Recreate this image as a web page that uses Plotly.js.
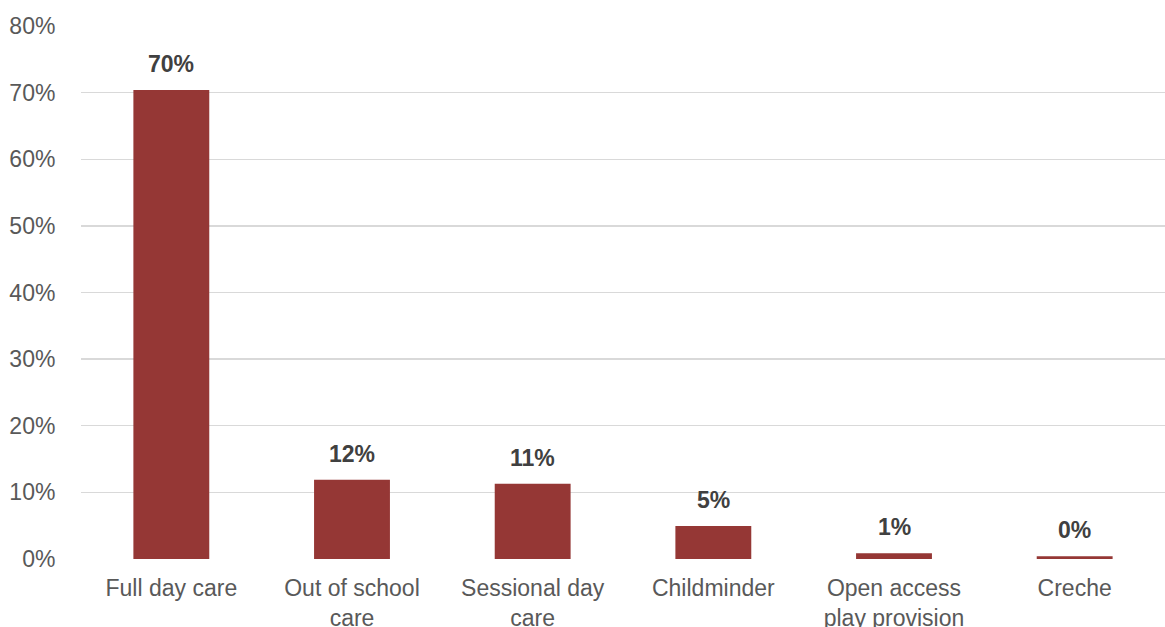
<!DOCTYPE html>
<html>
<head>
<meta charset="utf-8">
<script src="https://cdn.plot.ly/plotly-3.0.1.min.js"></script>
<style>html,body{margin:0;padding:0;background:#fff;}#chart{width:1165px;height:627px;}</style>
</head>
<body>
<div id="chart"></div>
<script>
const categories = ["Full day care", "Out of school<br>care", "Sessional day<br>care", "Childminder", "Open access<br>play provision", "Creche"];
const values = [70.4, 11.9, 11.3, 4.95, 0.87, 0.4];
const valueLabels = ["70%", "12%", "11%", "5%", "1%", "0%"];
const yTicks = [0, 10, 20, 30, 40, 50, 60, 70, 80];
const yTickLabels = ["0%", "10%", "20%", "30%", "40%", "50%", "60%", "70%", "80%"];

const trace = {
  type: "bar",
  x: categories,
  y: values,
  marker: {color: "#953735"},
  width: 0.42,
  hoverinfo: "skip"
};

const annotations = categories.map((c, i) => ({
  x: c, y: values[i], xref: "x", yref: "y",
  text: valueLabels[i], showarrow: false,
  yanchor: "bottom", yshift: 11,
  font: {family: "Liberation Sans, Arial, sans-serif", size: 23, color: "#404040", weight: "bold"}
}));

const layout = {
  width: 1165, height: 627,
  margin: {l: 81, r: 0, t: 26, b: 68},
  paper_bgcolor: "#fff", plot_bgcolor: "#fff",
  showlegend: false,
  font: {family: "Liberation Sans, Arial, sans-serif", size: 23, color: "#595959"},
  xaxis: {
    showgrid: false, zeroline: false, showline: false,
    ticks: "outside", ticklen: 8, tickcolor: "rgba(0,0,0,0)",
    tickfont: {size: 23, color: "#595959"}
  },
  yaxis: {
    range: [0, 80],
    tickvals: yTicks, ticktext: yTickLabels,
    showgrid: true, gridcolor: "#d9d9d9", gridwidth: 1.3,
    zeroline: false, showline: false,
    ticks: "outside", ticklen: 20, tickcolor: "rgba(0,0,0,0)",
    tickfont: {size: 23, color: "#595959"}
  },
  annotations: annotations
};

Plotly.newPlot("chart", [trace], layout, {displayModeBar: false, staticPlot: true});
</script>
</body>
</html>
